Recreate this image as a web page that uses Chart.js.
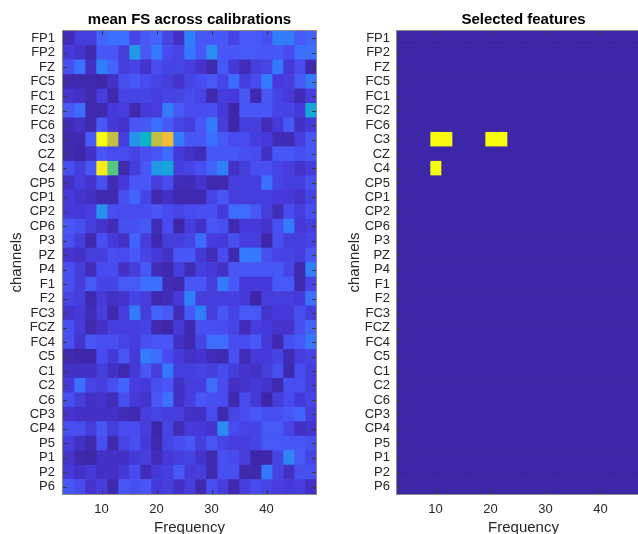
<!DOCTYPE html>
<html>
<head>
<meta charset="utf-8">
<script src="https://cdn.jsdelivr.net/npm/chart.js@4/dist/chart.umd.min.js"></script>
<style>
  html, body { margin: 0; padding: 0; background: #fff; overflow: hidden; width: 638px; height: 534px; }
  #left { position: absolute; left: 0; top: 0; }
  #right { position: absolute; left: 330px; top: 0; }
</style>
</head>
<body>
<canvas id="left" width="330" height="534"></canvas>
<canvas id="right" width="330" height="534"></canvas>
<script>
var channels = ['FP1','FP2','FZ','FC5','FC1','FC2','FC6','C3','CZ','C4','CP5','CP1','CP2','CP6','P3','PZ',
                'P4','F1','F2','FC3','FCZ','FC4','C5','C1','C2','C6','CP3','CP4','P5','P1','P2','P6'];
var freqs = [4,6,8,10,12,14,16,18,20,22,24,26,28,30,32,34,36,38,40,42,44,46,48];
var xTicks = [10, 20, 30, 40];

// mean feature score, one row per channel, one column per frequency bin
var meanFS = [
  [4,10,10,21,24,24,12,18,21,12,6,28,18,17,18,12,18,18,15,28,27,18,21],   // FP1
  [9,7,3,18,17,10,37,17,26,14,12,26,18,32,17,17,18,18,17,18,14,24,24],    // FP2
  [15,24,6,28,21,10,12,7,14,12,12,10,7,3,18,9,4,10,12,26,9,14,3],         // FZ
  [3,3,3,2,6,15,18,14,12,10,7,12,14,18,12,23,10,14,27,9,10,18,26],        // FC5
  [7,6,3,10,3,12,12,12,10,12,12,14,12,3,10,9,17,3,17,12,9,4,10],          // FC1
  [17,23,3,3,9,10,3,9,10,27,18,14,14,15,9,2,17,17,17,12,12,9,42],         // FC2
  [4,6,3,18,9,7,17,18,24,18,12,10,17,27,10,2,10,10,4,9,18,6,9],           // FC6
  [3,3,18,100,75,10,35,48,74,83,27,17,17,24,18,14,14,10,9,4,4,10,17],     // C3
  [3,2,6,17,14,14,12,15,17,23,9,6,4,17,17,17,15,14,6,17,17,15,17],        // CZ
  [15,10,17,97,62,3,10,17,37,42,10,12,15,21,28,6,10,15,15,12,10,7,10],    // C4
  [6,10,7,15,4,9,17,17,10,14,4,4,7,3,3,10,10,10,24,12,10,10,15],          // CP5
  [9,7,6,3,3,15,21,12,3,6,3,3,3,12,17,10,10,10,10,9,9,7,12],              // CP1
  [9,9,10,34,15,14,14,14,17,14,12,14,15,15,9,23,23,17,10,4,14,10,15],     // CP2
  [17,15,10,7,4,15,15,18,4,14,2,10,6,17,15,3,9,9,7,15,27,9,10],           // CP6
  [15,10,3,15,9,6,21,10,3,10,10,12,23,10,9,15,10,10,2,15,10,10,12],       // P3
  [7,6,10,10,15,14,18,12,9,6,17,18,9,4,14,3,26,26,15,12,12,10,17],        // PZ
  [15,10,4,14,14,6,10,18,4,3,10,4,10,9,6,17,17,17,17,18,12,3,28],         // P4
  [15,10,18,12,12,18,18,24,24,4,3,17,17,10,27,18,9,9,9,18,18,3,12],       // F1
  [12,10,3,9,6,7,12,10,3,4,9,28,10,10,10,10,9,2,10,10,10,9,24],           // F2
  [7,9,4,10,3,10,27,10,21,18,4,18,28,10,17,12,18,18,7,9,9,15,10],         // FC3
  [15,9,3,6,10,10,10,12,3,2,9,3,15,15,14,12,4,10,9,7,7,15,21],            // FCZ
  [15,7,17,15,15,12,10,15,17,17,6,3,12,23,23,14,14,18,9,3,15,18,26],      // FC4
  [3,2,2,14,9,17,9,27,23,14,9,6,7,4,3,15,4,9,9,12,4,10,12],               // C5
  [6,6,6,10,6,3,9,17,10,26,10,10,12,10,14,10,7,6,10,15,3,14,10],          // C1
  [9,24,12,10,15,21,10,9,15,17,6,10,10,23,14,6,7,9,7,3,15,15,10],         // C2
  [15,10,6,7,4,15,9,7,17,24,6,10,17,15,14,3,14,9,2,10,14,9,12],           // C6
  [7,6,6,6,6,4,3,10,12,10,10,6,6,14,3,12,14,17,15,15,17,21,10],           // CP3
  [15,15,10,17,10,14,14,10,2,12,4,9,9,7,32,14,12,12,18,18,12,6,7],        // CP4
  [10,6,3,15,3,12,15,9,3,12,14,17,10,17,12,10,10,12,18,18,17,17,15],      // P5
  [7,3,2,6,6,6,9,10,4,9,10,12,7,3,15,14,10,2,2,12,30,18,12],              // P1
  [9,6,9,6,6,9,14,4,9,10,18,9,10,3,15,15,3,3,26,12,6,15,15],              // P2
  [18,14,7,10,3,17,15,17,9,10,6,10,3,15,10,3,10,14,12,10,9,10,6]          // P6
];

var selectedChannels = ['C3', 'C3', 'C3', 'C3', 'C4'];
var selectedFreqs = [10, 12, 20, 22, 10];

var fam = '"Liberation Sans", Arial, Helvetica, sans-serif';

// parula colormap
var parulaStops = [
  [0, 62,38,168], [0.0625, 69,55,213], [0.125, 72,76,240], [0.1875, 69,98,252],
  [0.25, 51,122,253], [0.3125, 40,142,240], [0.375, 30,158,226], [0.4375, 15,174,210],
  [0.5, 12,185,190], [0.5625, 45,193,160], [0.625, 95,199,125], [0.6875, 150,197,90],
  [0.75, 200,190,65], [0.8125, 238,186,58], [0.875, 254,196,48], [0.9375, 245,220,34],
  [1, 249,251,14]
];
function parula(t) {
  t = Math.max(0, Math.min(1, t));
  for (var i = 1; i < parulaStops.length; i++) {
    var a = parulaStops[i - 1], b = parulaStops[i];
    if (t <= b[0]) {
      var u = (t - a[0]) / (b[0] - a[0]);
      return 'rgb(' + Math.round(a[1] + u * (b[1] - a[1])) + ',' +
        Math.round(a[2] + u * (b[2] - a[2])) + ',' + Math.round(a[3] + u * (b[3] - a[3])) + ')';
    }
  }
}

// selected matrix 0/1
var selected = channels.map(function(c) {
  return freqs.map(function(f) {
    for (var k = 0; k < selectedChannels.length; k++) {
      if (selectedChannels[k] == c && selectedFreqs[k] == f) return 1;
    }
    return 0;
  });
});

function heatmapDatasets(matrix) {
  var all = [].concat.apply([], matrix);
  var lo = Math.min.apply(null, all), hi = Math.max.apply(null, all);
  return freqs.map(function(f, j) {
    return {
      data: channels.map(function() { return [f - 1, f + 1]; }),
      backgroundColor: channels.map(function(c, i) { return parula((matrix[i][j] - lo) / (hi - lo)); }),
      borderWidth: 0,
      grouped: false,
      barPercentage: 1,
      categoryPercentage: 1
    };
  });
}

var axesBox = {
  id: 'axesBox',
  afterDatasetsDraw: function(chart) {
    var ctx = chart.ctx, a = chart.chartArea, xs = chart.scales.x, ys = chart.scales.y;
    ctx.save();
    ctx.lineWidth = 1;
    ctx.strokeStyle = '#3a3a3a';
    ctx.beginPath();
    xTicks.forEach(function(v) {
      var px = Math.round(xs.getPixelForValue(v)) + 0.5;
      ctx.moveTo(px, a.bottom); ctx.lineTo(px, a.bottom - 4);
      ctx.moveTo(px, a.top); ctx.lineTo(px, a.top + 4);
    });
    channels.forEach(function(c, i) {
      var py = Math.round(ys.getPixelForValue(i)) + 0.5;
      ctx.moveTo(a.left, py); ctx.lineTo(a.left + 4, py);
      ctx.moveTo(a.right, py); ctx.lineTo(a.right - 4, py);
    });
    ctx.stroke();
    ctx.strokeStyle = '#8c8c8c';
    ctx.strokeRect(Math.round(a.left) - 0.5, Math.round(a.top) - 0.5,
      Math.round(a.right) - Math.round(a.left) + 1, Math.round(a.bottom) - Math.round(a.top) + 1);
    ctx.restore();
  }
};

function makeChart(id, title, datasets, yWidth, yTitlePad, tickPad, padRight) {
  return new Chart(document.getElementById(id), {
    type: 'bar',
    data: { labels: channels, datasets: datasets },
    options: {
      indexAxis: 'y',
      responsive: false,
      animation: false,
      events: [],
      layout: { padding: { left: 0, right: padRight, top: 0, bottom: 0 } },
      plugins: {
        legend: { display: false },
        tooltip: { enabled: false },
        title: {
          display: true, text: title, fullSize: false, color: '#000',
          font: { family: fam, size: 15, weight: 'bold' },
          padding: { top: 11, bottom: 2 }
        }
      },
      scales: {
        x: {
          type: 'linear', min: 3, max: 49,
          grid: { display: false, drawTicks: false },
          border: { display: false },
          afterBuildTicks: function(s) { s.ticks = xTicks.map(function(v) { return { value: v }; }); },
          afterFit: function(s) { s.height = 40; },
          ticks: { color: '#262626', font: { family: fam, size: 13 }, padding: 8, maxRotation: 0, autoSkip: false },
          title: { display: true, text: 'Frequency', color: '#262626', font: { family: fam, size: 15 }, padding: { top: 0, bottom: -3 } }
        },
        y: {
          type: 'category',
          grid: { display: false, drawTicks: false },
          border: { display: false },
          afterFit: function(s) { s.width = yWidth; },
          ticks: { color: '#262626', font: { family: fam, size: 13 }, padding: tickPad, autoSkip: false },
          title: { display: true, text: 'channels', color: '#262626', font: { family: fam, size: 15 }, padding: { top: yTitlePad, bottom: 0 } }
        }
      }
    },
    plugins: [axesBox]
  });
}

var selDatasets = freqs.map(function(f, j) {
  return {
    data: channels.map(function() { return [f - 1, f + 1]; }),
    backgroundColor: channels.map(function(c, i) { return parula(selected[i][j]); }),
    borderWidth: 0,
    grouped: false,
    barPercentage: 1,
    categoryPercentage: 1
  };
});

makeChart('left', 'mean FS across calibrations', heatmapDatasets(meanFS), 63, 8, 8, 14);
makeChart('right', 'Selected features', selDatasets, 67, 16, 7, 10);
</script>
</body>
</html>
